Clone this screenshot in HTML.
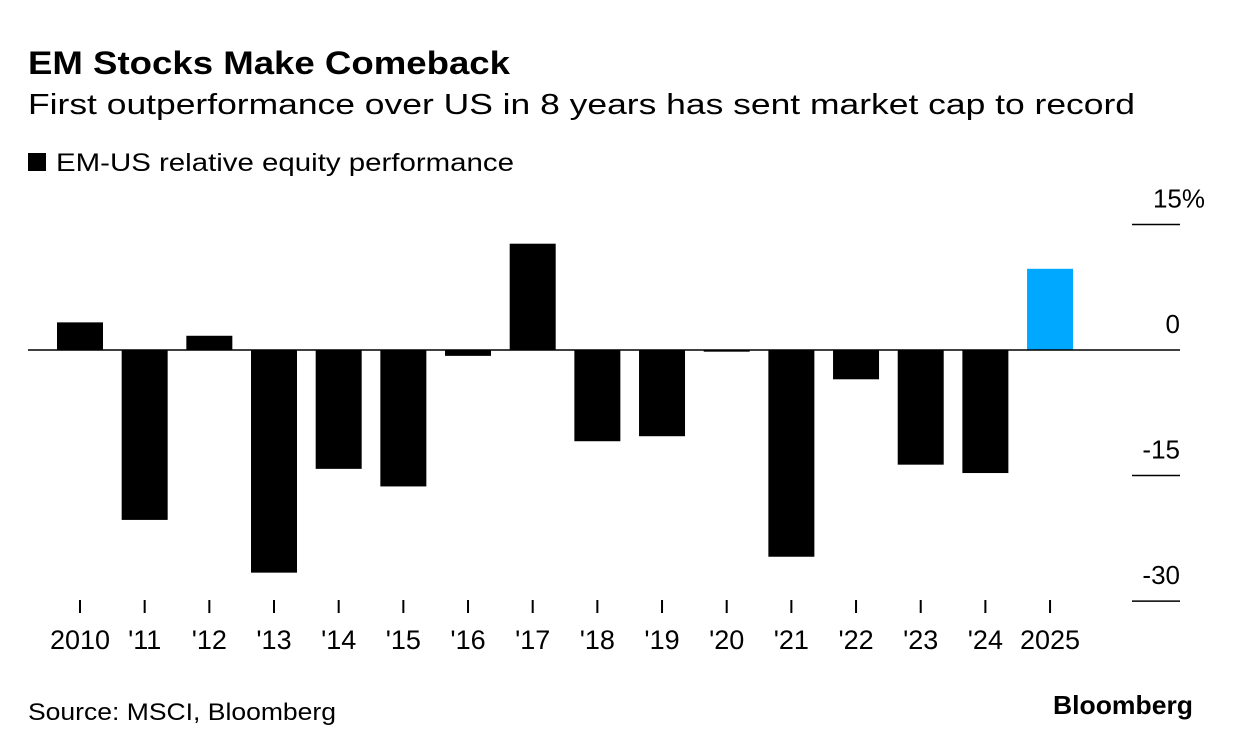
<!DOCTYPE html>
<html><head><meta charset="utf-8">
<style>
html,body{margin:0;padding:0;background:#fff;}
body{width:1233px;height:750px;overflow:hidden;font-family:"Liberation Sans",sans-serif;color:#000;}
</style></head>
<body>
<svg width="1233" height="750" xmlns="http://www.w3.org/2000/svg" font-family="Liberation Sans, sans-serif">
<text x="28" y="74" font-size="32" font-weight="bold" textLength="482" lengthAdjust="spacingAndGlyphs">EM Stocks Make Comeback</text>
<text x="28" y="114" font-size="29" textLength="1107" lengthAdjust="spacingAndGlyphs">First outperformance over US in 8 years has sent market cap to record</text>
<rect x="28" y="153" width="18" height="18" fill="#000"/>
<text x="56" y="171" font-size="25" textLength="458" lengthAdjust="spacingAndGlyphs">EM-US relative equity performance</text>
<g id="bars"></g>
<g id="axis"></g>
<text x="28" y="720" font-size="24" textLength="308" lengthAdjust="spacingAndGlyphs">Source: MSCI, Bloomberg</text>
<text x="1193" y="714" font-size="26" font-weight="bold" text-anchor="end" textLength="140" lengthAdjust="spacingAndGlyphs">Bloomberg</text>
</svg>
<script>
const categories = ["2010","'11","'12","'13","'14","'15","'16","'17","'18","'19","'20","'21","'22","'23","'24","2025"];
const values = [3.3,-20.3,1.7,-26.6,-14.2,-16.3,-0.7,12.7,-10.9,-10.3,-0.2,-24.7,-3.5,-13.7,-14.7,9.7];
const yTicks = [15,0,-15,-30];
const yTickLabels = ["15%","0","-15","-30"];
const NS="http://www.w3.org/2000/svg";
const y = v => 350 - v*8.37;
const x = i => 80 + i*64.67;
const barW = 46;
const bars=document.getElementById('bars');
const axis=document.getElementById('axis');
function mk(tag,attrs,parent){const e=document.createElementNS(NS,tag);for(const k in attrs)e.setAttribute(k,attrs[k]);parent.appendChild(e);return e;}
values.forEach((v,i)=>{
  const r=mk('rect',{x:x(i)-barW/2,y:Math.min(y(v),y(0)),width:barW,height:Math.abs(y(v)-y(0)),fill:i===values.length-1?'#00a8ff':'#000'},bars);
  
  
  const t=mk('line',{x1:x(i),x2:x(i),y1:600,y2:613,stroke:'#000','stroke-width':2},axis);
  
  
  const l=mk('text',{x:x(i),y:649,'font-size':27,'text-anchor':'middle'},axis);
  l.textContent=categories[i];
  
  
});
const zl=mk('line',{x1:28,x2:1180,y1:y(0),y2:y(0),stroke:'#000','stroke-width':1.5},axis);


yTicks.forEach((v,i)=>{
  if(v!==0){
    const g=mk('line',{x1:1132,x2:1180,y1:y(v),y2:y(v),stroke:'#000','stroke-width':1.5},axis);
    
    
  }
  const t=mk('text',{x:v===15?1205:1180,y:y(v)-17,'font-size':26,'text-anchor':'end'},axis);
  t.textContent=yTickLabels[i];
  
  
});
</script>
</body></html>
